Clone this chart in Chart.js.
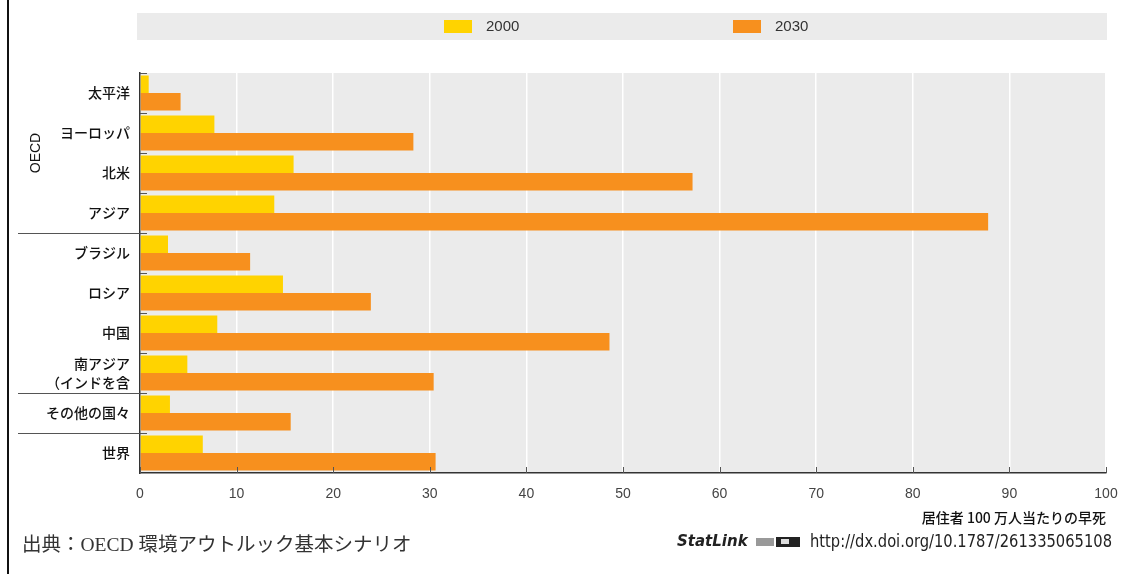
<!DOCTYPE html>
<html>
<head>
<meta charset="utf-8">
<script src="https://cdn.jsdelivr.net/npm/chart.js@4.4.1/dist/chart.umd.min.js"></script>
<style>
  html, body { margin: 0; padding: 0; background: #fff; }
  #wrap { width: 1122px; height: 574px; }
</style>
</head>
<body>
<div id="wrap"><canvas id="barChart" width="1122" height="574"></canvas></div>
<script>
const categories = ["太平洋", "ヨーロッパ", "北米", "アジア", "ブラジル", "ロシア", "中国", ["南アジア", "（インドを含"], "その他の国々", "世界"];
const seriesNames = ["2000", "2030"];
const values2000 = [0.9, 7.7, 15.9, 13.9, 2.9, 14.8, 8.0, 4.9, 3.1, 6.5];
const values2030 = [4.2, 28.3, 57.2, 87.8, 11.4, 23.9, 48.6, 30.4, 15.6, 30.6];
const xTicks = [0, 10, 20, 30, 40, 50, 60, 70, 80, 90, 100];
// category index where a new group starts (long separator line)
const groupBreaks = [4, 8, 9];
const groupLabel = "OECD";
const groupSpan = [0, 3];
const xTitle = "居住者 100 万人当たりの早死";
const sourceText = "出典：OECD 環境アウトルック基本シナリオ";
const statUrl = "http://dx.doi.org/10.1787/261335065108";

const colors = ["#FFD300", "#F7901E"];
const jpFont = "'Noto Sans CJK JP', 'Noto Sans', sans-serif";
const numFont = "'Liberation Sans', Arial, sans-serif";

Chart.defaults.font.family = jpFont;

const decorPlugin = {
  id: "decor",
  beforeDraw(chart) {
    const ctx = chart.ctx;
    const a = chart.chartArea;
    ctx.save();
    // plot background
    ctx.fillStyle = "#ebebeb";
    ctx.fillRect(a.left, a.top, a.right - a.left, a.bottom - a.top);
    // legend band
    ctx.fillRect(137, 13, 970, 27);
    // left frame line
    ctx.fillStyle = "#111";
    ctx.fillRect(7, 0, 2, 574);
    ctx.restore();
  },
  afterDraw(chart) {
    const ctx = chart.ctx;
    const a = chart.chartArea;
    const x = chart.scales.x;
    const y = chart.scales.y;
    ctx.save();

    // legend items
    chart.data.datasets.forEach((ds, i) => {
      const bx = 444 + i * 289;
      ctx.fillStyle = ds.backgroundColor;
      ctx.fillRect(bx, 20, 28, 13);
      ctx.fillStyle = "#333";
      ctx.font = "15px " + numFont;
      ctx.textBaseline = "middle";
      ctx.textAlign = "left";
      ctx.fillText(ds.label, bx + 42, 27);
    });

    // inner tick marks on category boundaries + group separators
    ctx.strokeStyle = "#555";
    ctx.lineWidth = 1;
    for (let i = 0; i < categories.length; i++) {
      const py = Math.round(y.getPixelForValue(i - 0.5)) + 0.5;
      const x0 = groupBreaks.includes(i) ? 18 : a.left;
      ctx.beginPath();
      ctx.moveTo(x0, py);
      ctx.lineTo(a.left + 7, py);
      ctx.stroke();
    }
    // inner tick marks on x axis
    xTicks.forEach((v) => {
      const px = Math.round(x.getPixelForValue(v)) + 0.5;
      ctx.beginPath();
      ctx.moveTo(px, a.bottom);
      ctx.lineTo(px, a.bottom - 6);
      ctx.stroke();
    });

    // group label, rotated
    const gy = (y.getPixelForValue(groupSpan[0] - 0.5) + y.getPixelForValue(groupSpan[1] + 0.5)) / 2;
    ctx.translate(36, gy);
    ctx.rotate(-Math.PI / 2);
    ctx.fillStyle = "#111";
    ctx.font = "14px " + numFont;
    ctx.textAlign = "center";
    ctx.textBaseline = "middle";
    ctx.fillText(groupLabel, 0, 0);
    ctx.setTransform(1, 0, 0, 1, 0, 0);

    // source note
    ctx.fillStyle = "#333";
    ctx.font = "19.5px 'Liberation Serif', " + jpFont;
    ctx.textAlign = "left";
    ctx.textBaseline = "middle";
    ctx.fillText(sourceText, 22, 546, 392);

    // StatLink
    ctx.fillStyle = "#222";
    ctx.font = "italic bold 15px 'DejaVu Sans', sans-serif";
    ctx.fillText("StatLink", 677, 542, 72);
    ctx.fillStyle = "#999";
    ctx.fillRect(756, 538, 18, 8);
    ctx.fillStyle = "#222";
    ctx.fillRect(776, 537, 24, 10);
    ctx.fillStyle = "#ddd";
    ctx.fillRect(781, 539, 8, 5);
    ctx.fillStyle = "#222";
    ctx.font = "18px 'Liberation Sans Narrow', 'DejaVu Sans Condensed', sans-serif";
    ctx.fillText(statUrl, 810, 542, 302);

    ctx.restore();
  },
};

const barCanvas = document.getElementById("barChart").getContext("2d");

new Chart(barCanvas, {
  type: "bar",
  data: {
    labels: categories,
    datasets: [
      { label: seriesNames[0], data: values2000, backgroundColor: colors[0] },
      { label: seriesNames[1], data: values2030, backgroundColor: colors[1] },
    ],
  },
  options: {
    indexAxis: "y",
    responsive: false,
    animation: false,
    devicePixelRatio: 1,
    categoryPercentage: 0.875,
    barPercentage: 1,
    layout: { padding: { top: 73, right: 16, bottom: 0, left: 0 } },
    plugins: {
      legend: { display: false },
      tooltip: { enabled: false },
    },
    scales: {
      x: {
        min: 0,
        max: 100,
        afterFit: (s) => {
          s.height = 101;
          s.paddingLeft = 0;
          s.paddingRight = 0;
        },
        afterBuildTicks: (s) => { s.ticks = xTicks.map((v) => ({ value: v })); },
        grid: { color: "#ffffff", lineWidth: 1.5, drawTicks: false },
        border: { display: true, color: "#333", width: 1.5 },
        ticks: { padding: 13, color: "#444", font: { family: numFont, size: 14 } },
        title: {
          display: true,
          text: xTitle,
          align: "end",
          color: "#111",
          font: { size: 14, weight: "500" },
          padding: { top: 0, bottom: 48 },
        },
      },
      y: {
        afterFit: (s) => {
          s.width = 140;
          s.paddingTop = 0;
          s.paddingBottom = 0;
        },
        grid: { color: "rgba(0,0,0,0)", drawTicks: false },
        border: { display: true, color: "#333", width: 1.5 },
        ticks: {
          autoSkip: false,
          padding: 10,
          color: "#111",
          font: { size: 14, weight: "500", lineHeight: 1.35 },
        },
      },
    },
  },
  plugins: [decorPlugin],
});
</script>
</body>
</html>
